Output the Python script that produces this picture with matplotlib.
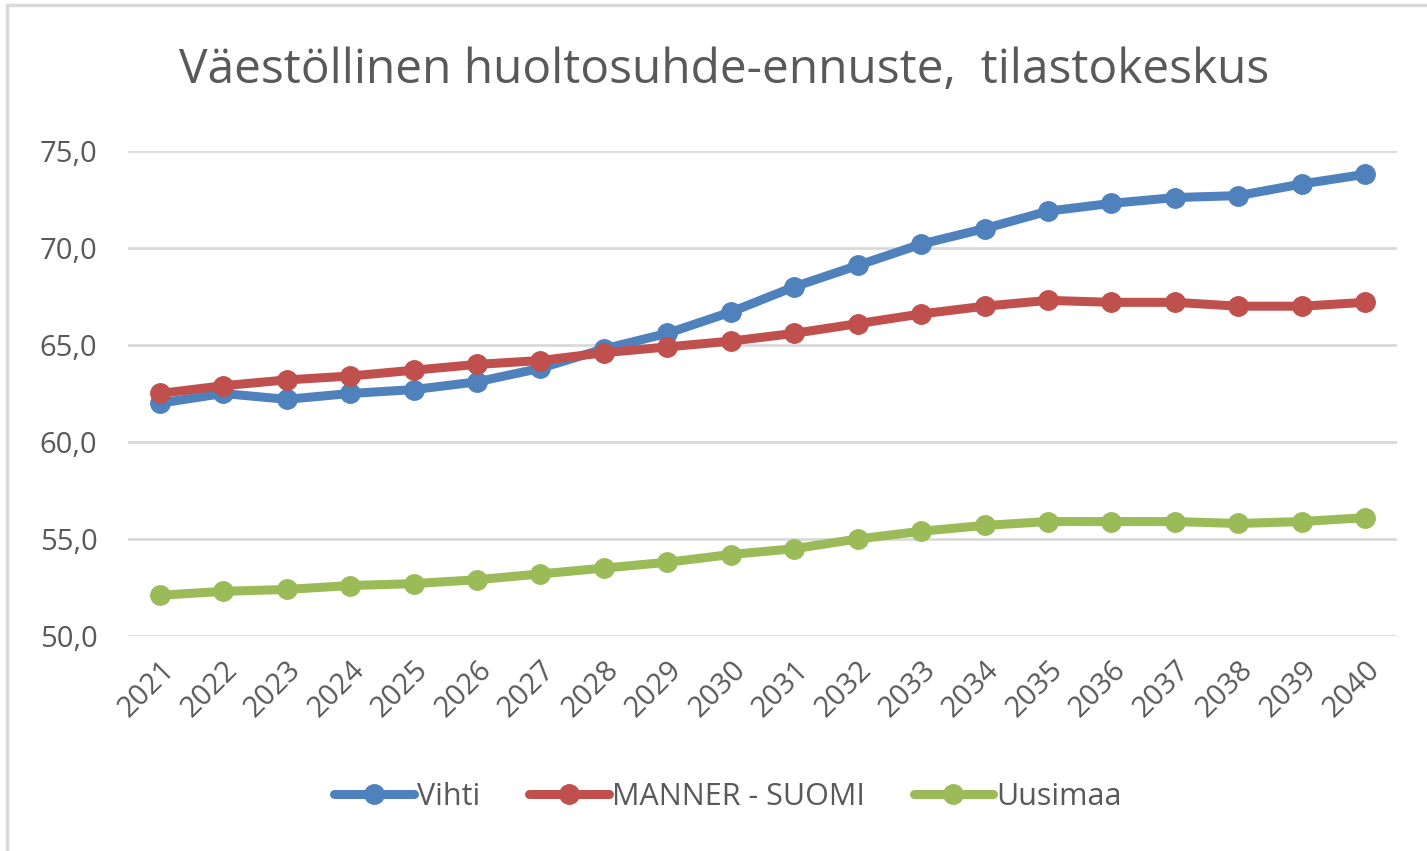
import matplotlib
matplotlib.use("Agg")
import matplotlib.pyplot as plt
from matplotlib.patches import Rectangle
from matplotlib.ticker import FuncFormatter

years = [str(y) for y in range(2021, 2041)]
vihti = [62.0, 62.5, 62.2, 62.5, 62.7, 63.1, 63.8, 64.8, 65.6, 66.7,
         68.0, 69.1, 70.2, 71.0, 71.9, 72.3, 72.6, 72.7, 73.3, 73.8]
manner = [62.5, 62.9, 63.2, 63.4, 63.7, 64.0, 64.2, 64.6, 64.9, 65.2,
          65.6, 66.1, 66.6, 67.0, 67.3, 67.2, 67.2, 67.0, 67.0, 67.2]
uusimaa = [52.1, 52.3, 52.4, 52.6, 52.7, 52.9, 53.2, 53.5, 53.8, 54.2,
           54.5, 55.0, 55.4, 55.7, 55.9, 55.9, 55.9, 55.8, 55.9, 56.1]
series = [("Vihti", vihti, "#4F81BD"),
          ("MANNER - SUOMI", manner, "#C0504D"),
          ("Uusimaa", uusimaa, "#9BBB59")]
title = "Väestöllinen huoltosuhde-ennuste,  tilastokeskus"

plt.rcParams['font.family'] = ['Open Sans', 'DejaVu Sans']
txt = "#595959"

W, H = 1427, 851
fig = plt.figure(figsize=(W / 100, H / 100), dpi=100)
fig.patches.append(Rectangle((7 / W, -0.1), 1.2, 1 - 5 / H + 0.1,
                             transform=fig.transFigure, fill=False,
                             edgecolor="#D9D9D9", linewidth=2.5))

ax = fig.add_axes([128 / W, 1 - 636 / H, (1397 - 128) / W, (636 - 151) / H])
x = list(range(len(years)))
for name, vals, col in series:
    ax.plot(x, vals, color=col, linewidth=6.5, marker="o", markersize=14,
            label=name, solid_capstyle="round")

ax.set_xlim(-0.5, len(years) - 0.5)
ax.set_ylim(50, 75)
ax.set_yticks([50, 55, 60, 65, 70, 75])
ax.yaxis.set_major_formatter(FuncFormatter(lambda v, p: f"{v:.1f}".replace(".", ",")))
ax.grid(axis="y", color="#D9D9D9", linewidth=2)
ax.set_axisbelow(True)
for s in ax.spines.values():
    s.set_visible(False)
ax.tick_params(axis="both", length=0, colors=txt, labelsize=21)
ax.tick_params(axis="y", pad=22)
ax.set_xticks(x)
ax.set_xticklabels(years, rotation=45, ha="right", va="top",
                   rotation_mode="anchor")
ax.tick_params(axis="x", pad=14)

fig.text(724 / W, 1 - 70 / H, title, ha="center", va="center", fontsize=34.5,
         color=txt)

leg = fig.legend(loc="center", bbox_to_anchor=(728 / W, 1 - 797 / H), ncol=3,
                 frameon=False, fontsize=22, handlelength=2.6,
                 columnspacing=1.6, handletextpad=0.1, labelcolor=txt)

fig.savefig("out.png", dpi=100)
